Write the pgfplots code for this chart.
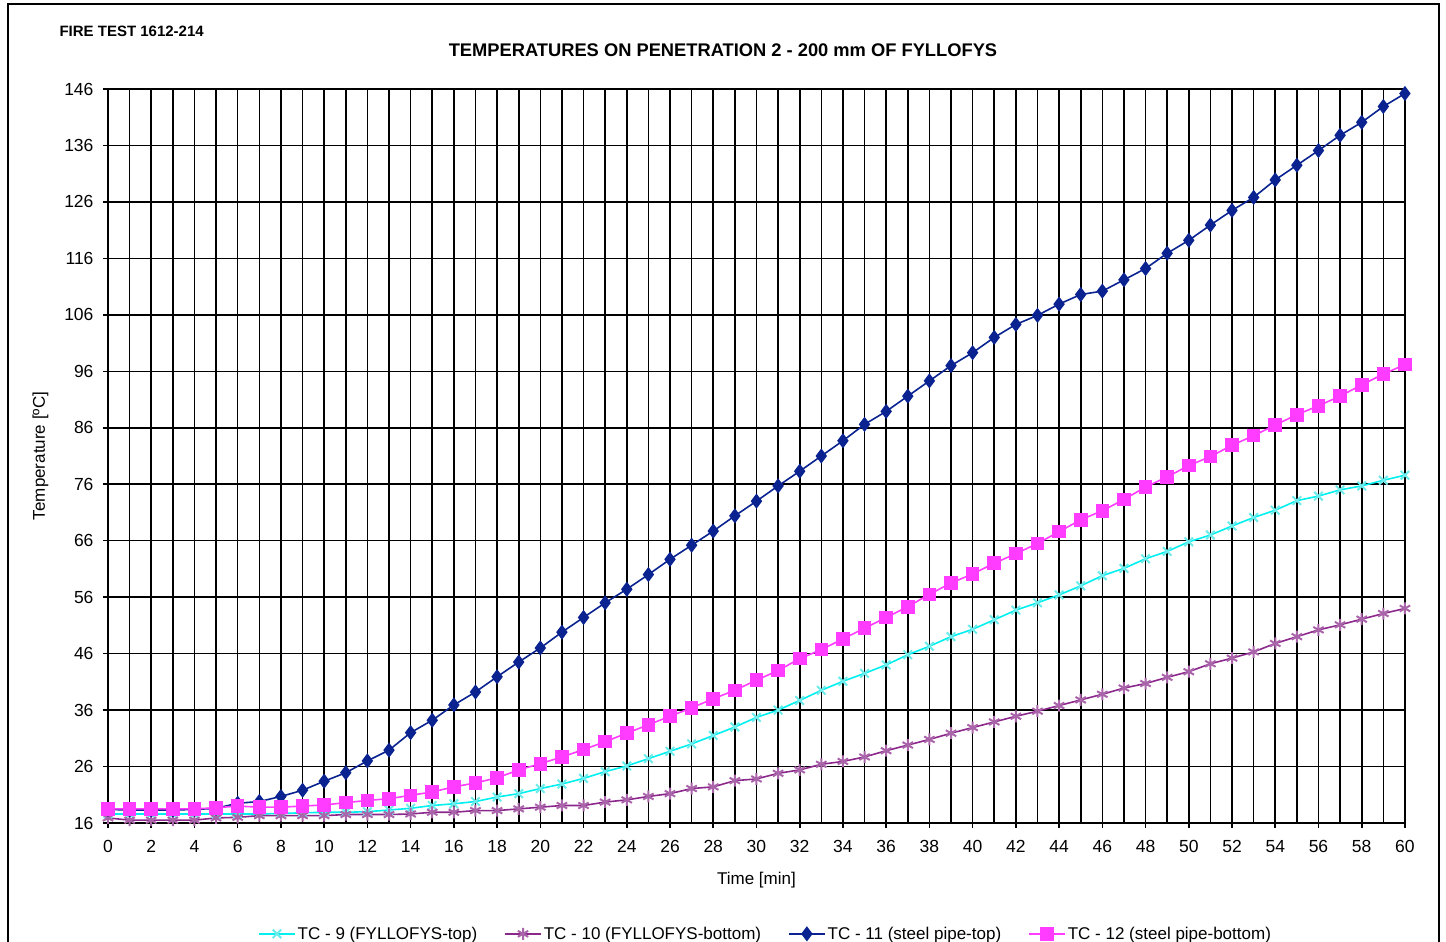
\documentclass[border=0pt]{standalone}
\usepackage{fontspec}
\setmainfont{Liberation Sans}
\usepackage{pgfplots}
\pgfplotsset{compat=1.18}
\definecolor{cyanline}{RGB}{0,240,240}
\definecolor{cyanmark}{RGB}{110,235,235}
\definecolor{purpline}{RGB}{140,40,140}
\definecolor{purpmark}{RGB}{170,100,170}
\definecolor{navyline}{RGB}{10,35,145}
\definecolor{magline}{RGB}{255,60,255}
\begin{document}
\begin{tikzpicture}
\begin{axis}[
  anchor=south west, at={(0pt,0pt)},
  width=1297pt, height=734pt, scale only axis,
  xmin=0, xmax=60, ymin=16, ymax=146,
  xtick={0,2,...,60}, minor xtick={1,3,...,59},
  ytick={16,26,...,146},
  grid=both,
  major grid style={black, line width=1.6pt},
  minor grid style={black, line width=1.6pt},
  axis line style={black, line width=1.6pt},
  tick style={black, line width=1.6pt},
  tick align=outside, major tick length=5pt, minor tick length=0pt,
  xtick pos=left, ytick pos=left,
  /pgf/number format/assume math mode=true,
  ticklabel style={font=\fontsize{17.5}{19}\selectfont},
  xticklabel style={yshift=-9pt},
  yticklabel style={xshift=-6pt},
  xlabel={Time [min]}, ylabel={Temperature [ºC]},
  label style={font=\fontsize{17}{19}\selectfont},
  xlabel style={at={(axis description cs:0.5,-0.078)}, anchor=center},
  ylabel style={at={(axis description cs:-0.052,0.5)}, anchor=center},
  clip=false,
  legend columns=4,
  legend style={draw=none, fill=none, at={(axis description cs:0.507,-0.151)}, anchor=center,
    font=\fontsize{17}{19}\selectfont,
    /tikz/every even column/.append style={column sep=25pt}},
  legend image code/.code={\draw[mark repeat=2,mark phase=2] plot coordinates {(0pt,0pt)(18pt,0pt)(36pt,0pt)};},
]
\addplot[cyanline, line width=1.6pt, mark=x, mark size=6pt, mark options={cyanmark, line width=2pt}] coordinates {
(0,17.6)(1,17.6)(2,17.6)(3,17.6)(4,17.6)(5,17.6)(6,17.6)(7,17.6)(8,17.7)(9,17.8)(10,17.9)(11,17.9)(12,18.0)(13,18.3)(14,18.6)(15,19.1)(16,19.4)(17,19.8)(18,20.6)(19,21.2)(20,22.1)(21,22.9)(22,23.9)(23,25.1)(24,26.1)(25,27.4)(26,28.7)(27,30.0)(28,31.5)(29,33.0)(30,34.7)(31,36.0)(32,37.7)(33,39.5)(34,41.1)(35,42.5)(36,44.0)(37,45.8)(38,47.3)(39,49.0)(40,50.3)(41,52.0)(42,53.7)(43,55.0)(44,56.4)(45,58.0)(46,59.8)(47,61.1)(48,62.8)(49,64.1)(50,65.8)(51,67.0)(52,68.6)(53,70.1)(54,71.4)(55,73.1)(56,73.9)(57,75.0)(58,75.7)(59,76.7)(60,77.6)};
\addlegendentry{TC - 9 (FYLLOFYS-top)}
\addplot[purpline, line width=1.6pt, mark=asterisk, mark size=6pt, mark options={purpmark, line width=2pt}] coordinates {
(0,16.9)(1,16.5)(2,16.5)(3,16.5)(4,16.5)(5,16.9)(6,17.0)(7,17.3)(8,17.3)(9,17.3)(10,17.3)(11,17.5)(12,17.5)(13,17.5)(14,17.6)(15,17.9)(16,17.9)(17,18.2)(18,18.2)(19,18.5)(20,18.8)(21,19.1)(22,19.1)(23,19.7)(24,20.1)(25,20.7)(26,21.2)(27,22.1)(28,22.4)(29,23.5)(30,23.8)(31,24.8)(32,25.4)(33,26.4)(34,26.9)(35,27.7)(36,28.8)(37,29.8)(38,30.8)(39,31.9)(40,32.9)(41,33.9)(42,34.9)(43,35.8)(44,36.8)(45,37.8)(46,38.8)(47,39.9)(48,40.7)(49,41.8)(50,42.8)(51,44.2)(52,45.2)(53,46.3)(54,47.8)(55,49.0)(56,50.2)(57,51.1)(58,52.1)(59,53.1)(60,54.0)};
\addlegendentry{TC - 10 (FYLLOFYS-bottom)}
\addplot[navyline, line width=1.6pt, mark=diamond*, mark size=6.3pt, mark options={navyline}] coordinates {
(0,18.4)(1,18.3)(2,18.3)(3,18.3)(4,18.4)(5,18.6)(6,19.5)(7,19.8)(8,20.7)(9,21.8)(10,23.4)(11,24.9)(12,27.0)(13,28.9)(14,32.0)(15,34.2)(16,36.9)(17,39.2)(18,41.9)(19,44.5)(20,47.0)(21,49.8)(22,52.4)(23,55.0)(24,57.4)(25,60.0)(26,62.7)(27,65.2)(28,67.7)(29,70.4)(30,73.0)(31,75.7)(32,78.3)(33,81.0)(34,83.7)(35,86.6)(36,88.9)(37,91.6)(38,94.3)(39,97.0)(40,99.3)(41,102.0)(42,104.3)(43,105.9)(44,107.9)(45,109.6)(46,110.2)(47,112.2)(48,114.2)(49,116.9)(50,119.2)(51,121.9)(52,124.5)(53,126.8)(54,129.9)(55,132.5)(56,135.1)(57,137.8)(58,140.1)(59,142.9)(60,145.2)};
\addlegendentry{TC - 11 (steel pipe-top)}
\addplot[magline, line width=1.6pt, mark=square*, mark size=6pt, mark options={magline}] coordinates {
(0,18.5)(1,18.5)(2,18.5)(3,18.5)(4,18.5)(5,18.7)(6,19.0)(7,18.8)(8,18.8)(9,19.0)(10,19.2)(11,19.6)(12,20.0)(13,20.3)(14,20.9)(15,21.5)(16,22.4)(17,23.1)(18,24.0)(19,25.4)(20,26.5)(21,27.7)(22,29.0)(23,30.4)(24,31.9)(25,33.4)(26,34.9)(27,36.4)(28,38.0)(29,39.5)(30,41.3)(31,43.0)(32,45.1)(33,46.7)(34,48.6)(35,50.5)(36,52.4)(37,54.3)(38,56.5)(39,58.5)(40,60.1)(41,62.0)(42,63.7)(43,65.5)(44,67.6)(45,69.7)(46,71.3)(47,73.3)(48,75.5)(49,77.3)(50,79.3)(51,80.9)(52,82.9)(53,84.6)(54,86.5)(55,88.3)(56,89.9)(57,91.6)(58,93.6)(59,95.5)(60,97.2)};
\addlegendentry{TC - 12 (steel pipe-bottom)}
\end{axis}
% frame and titles, in pt relative to the axis's lower left corner (image px: x-108, 823-y)
\draw[line width=1.8pt] (-100pt,-140pt) rectangle (1331pt,819pt);
\node[anchor=west,font=\bfseries\fontsize{15}{17}\selectfont] at (-52pt,792pt) {FIRE TEST 1612-214};
\node[anchor=center,font=\bfseries\fontsize{18.3}{20}\selectfont] at (615pt,773pt) {TEMPERATURES ON PENETRATION 2 - 200 mm OF FYLLOFYS};
\pgfresetboundingbox
\useasboundingbox (-108pt,-119pt) rectangle (1338pt,823pt);
\end{tikzpicture}
\end{document}
